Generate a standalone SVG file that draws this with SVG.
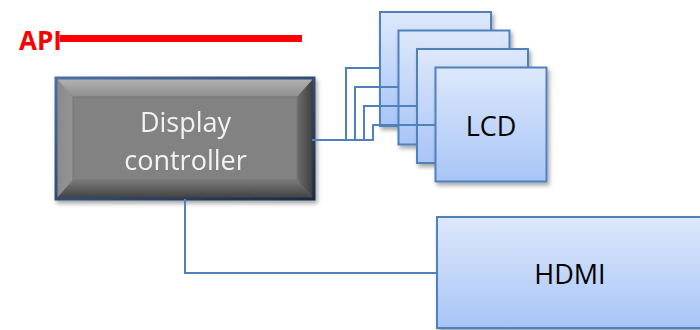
<svg xmlns="http://www.w3.org/2000/svg" width="700" height="330" viewBox="0 0 700 330">
  <defs>
    <linearGradient id="blueFill" x1="0" y1="0" x2="0" y2="1">
      <stop offset="0" stop-color="#dde8fb"/>
      <stop offset="1" stop-color="#a8c5f6"/>
    </linearGradient>
    <linearGradient id="ctrlBorder" x1="0" y1="0" x2="1" y2="1">
      <stop offset="0" stop-color="#4a6fa5"/>
      <stop offset="1" stop-color="#1a2b45"/>
    </linearGradient>
    <linearGradient id="bevelTop" x1="0" y1="0" x2="0" y2="1">
      <stop offset="0" stop-color="#b4b4b4"/>
      <stop offset="1" stop-color="#8e8e8e"/>
    </linearGradient>
    <linearGradient id="bevelBottom" x1="0" y1="0" x2="0" y2="1">
      <stop offset="0" stop-color="#7a7a7a"/>
      <stop offset="1" stop-color="#3e3e3e"/>
    </linearGradient>
    <linearGradient id="bevelRight" x1="0" y1="0" x2="1" y2="0">
      <stop offset="0" stop-color="#6e6e6e"/>
      <stop offset="1" stop-color="#3a3a3a"/>
    </linearGradient>
    <linearGradient id="bevelLeft" x1="0" y1="0" x2="1" y2="0">
      <stop offset="0" stop-color="#8a8a8a"/>
      <stop offset="1" stop-color="#949494"/>
    </linearGradient>
    <filter id="shadow" x="-10%" y="-10%" width="130%" height="130%">
      <feDropShadow dx="2" dy="3" stdDeviation="2" flood-color="#000" flood-opacity="0.35"/>
    </filter>
  </defs>
  <style>
    .panel { fill: url(#blueFill); stroke: #4f81bd; stroke-width: 2; filter: url(#shadow); }
    .wire { fill: none; stroke: #4f81bd; stroke-width: 2; }
    .label { font-family: "Open Sans", "Liberation Sans", sans-serif; font-size: 27px; text-anchor: middle; fill: #000; }
    .ctrlText { font-family: "Open Sans", "Liberation Sans", sans-serif; font-size: 27px; text-anchor: middle; fill: #f2f2f2; }
  </style>

  <!-- API bar -->
  <g id="api">
    <line x1="60" y1="38.5" x2="302" y2="38.5" stroke="#ff0000" stroke-width="7"/>
    <text x="19" y="50" font-family="'Open Sans', 'Liberation Sans', sans-serif" font-size="26" font-weight="bold" fill="#ff0000">API</text>
  </g>

  <!-- Display controller with bevelled face -->
  <g id="display-controller" filter="url(#shadow)">
    <rect x="56" y="78" width="258" height="121" fill="#808080"/>
    <polygon points="56,78 314,78 297,97 73,97" fill="url(#bevelTop)"/>
    <polygon points="56,78 73,97 73,180 56,199" fill="url(#bevelLeft)"/>
    <polygon points="56,199 73,180 297,180 314,199" fill="url(#bevelBottom)"/>
    <polygon points="314,78 297,97 297,180 314,199" fill="url(#bevelRight)"/>
    <rect x="73" y="97" width="224" height="83" fill="#828282" stroke="#747474" stroke-width="1"/>
    <rect x="56" y="78" width="258" height="121" fill="none" stroke="url(#ctrlBorder)" stroke-width="3"/>
    <text class="ctrlText" x="185.5" y="132">Display</text>
    <text class="ctrlText" x="185.5" y="170">controller</text>
  </g>

  <!-- Stack of LCD panels, back to front -->
  <g id="lcd-1"><rect class="panel" x="380" y="12" width="111" height="114"/></g>
  <g id="lcd-2"><rect class="panel" x="398.5" y="30.5" width="111" height="114"/></g>
  <g id="lcd-3"><rect class="panel" x="417" y="49" width="111" height="114"/></g>
  <g id="lcd-4">
    <rect class="panel" x="435.5" y="67.5" width="111" height="114"/>
    <text class="label" x="491" y="136">LCD</text>
  </g>

  <!-- HDMI output -->
  <g id="hdmi">
    <rect class="panel" x="437" y="217" width="270" height="111"/>
    <text class="label" x="570" y="284">HDMI</text>
  </g>

  <!-- Connectors -->
  <g id="connectors">
    <path class="wire" d="M312,140 H373 V125 H435.5"/>
    <path class="wire" d="M364,140 V106 H417"/>
    <path class="wire" d="M355,140 V87 H398.5"/>
    <path class="wire" d="M346,140 V68 H380"/>
    <path class="wire" d="M185,199 V273 H437"/>
  </g>
</svg>
